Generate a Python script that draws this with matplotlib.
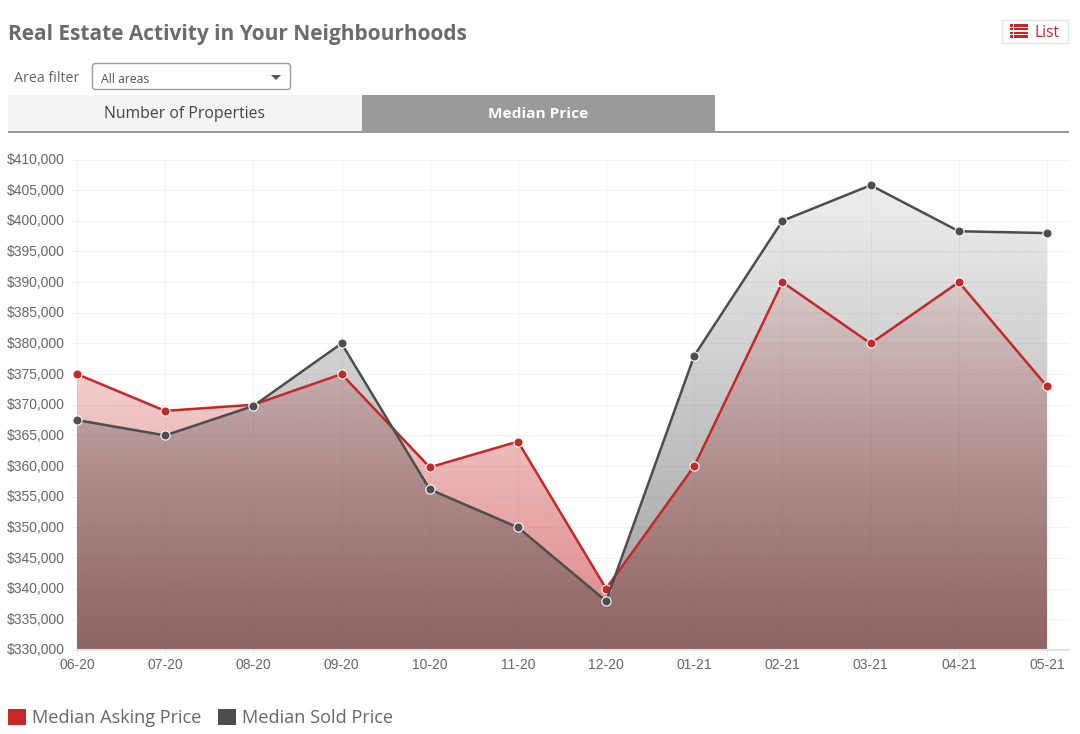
import numpy as np
import matplotlib
matplotlib.use("Agg")
import matplotlib.pyplot as plt
from matplotlib.patches import Rectangle, FancyBboxPatch, Polygon
from matplotlib.ticker import FuncFormatter
from matplotlib.transforms import ScaledTranslation

months = ["06-20", "07-20", "08-20", "09-20", "10-20", "11-20",
          "12-20", "01-21", "02-21", "03-21", "04-21", "05-21"]
asking = [375000, 369000, 370000, 375000, 359800, 364000,
          340000, 360000, 390000, 380000, 390000, 373000]
sold = [367500, 365000, 369800, 380000, 356200, 350000,
        338000, 378000, 400000, 405800, 398300, 398000]
y_ticks = list(range(330000, 410001, 5000))

RED = "#c62828"
GREY = "#4d4d4d"
W, H = 1080, 734
UI_FONT = "Open Sans"
TICK_FONT = "Liberation Sans"

fig = plt.figure(figsize=(W / 100, H / 100), dpi=100, facecolor="white")

# page furniture is drawn in pixel coordinates on a full-size overlay
ui = fig.add_axes([0, 0, 1, 1], zorder=3)
ui.set_xlim(0, W)
ui.set_ylim(H, 0)
ui.axis("off")

ui.text(8, 34.5, "Real Estate Activity in Your Neighbourhoods", family=UI_FONT,
        weight="bold", fontsize=15, color="#6b6b6b", va="center")

# list button
ui.add_patch(Rectangle((1001.5, 19.5), 66, 23, fc="white", ec="#e4e4e4", lw=1))
for yy in (24, 27.8, 31.6, 35.4):
    ui.add_patch(Rectangle((1010, yy), 3, 2.7, fc=RED, ec="none"))
    ui.add_patch(Rectangle((1014, yy), 14, 2.7, fc=RED, ec="none"))
ui.text(1034, 33, "List", family=UI_FONT, fontsize=11.2, color=RED, va="center")

# area filter
ui.text(14, 79, "Area filter", family=UI_FONT, fontsize=10.3, color="#666666", va="center")
ui.add_patch(FancyBboxPatch((92.5, 63.5), 198, 26, boxstyle="round,pad=0,rounding_size=3",
                            fc="white", ec="#999999", lw=1))
ui.text(101, 79.5, "All areas", family=UI_FONT, fontsize=8.8, color="#555555", va="center")
ui.add_patch(Polygon([(271, 75), (281, 75), (276, 80)], fc="#555555", ec="none"))

# tabs
ui.add_patch(Rectangle((8, 95), 354, 36, fc="#f4f4f4", ec="none"))
ui.add_patch(Rectangle((362, 95), 353, 36, fc="#999999", ec="none"))
ui.add_patch(Rectangle((8, 131), 1061, 2, fc="#999999", ec="none"))
ui.text(185, 114.5, "Number of Properties", family=UI_FONT, fontsize=11.35,
        color="#444444", ha="center", va="center")
ui.text(538, 114.5, "Median Price", family=UI_FONT, fontsize=11.1, weight="bold",
        color="white", ha="center", va="center")

# chart area: left 77, right 1069, top 159.5, bottom 650
ax = fig.add_axes([77 / W, 1 - 650 / H, (1069 - 77) / W, (650 - 159.5) / H], zorder=1)
x = np.arange(len(months))
x_max = (len(months) - 1) * (1069 - 77) / (1047 - 77)
ax.set_facecolor("white")
for side in ("top", "right", "left"):
    ax.spines[side].set_visible(False)
ax.spines["bottom"].set_color("#e6e6e6")
ax.spines["bottom"].set_linewidth(1.5)

ax.set_xticks(x)
ax.set_xticklabels(months)
ax.set_yticks(y_ticks)
ax.yaxis.set_major_formatter(FuncFormatter(lambda v, _: f"${v:,.0f}"))
ax.grid(True, color="#f3f3f3", lw=0.8)
ax.set_axisbelow(True)
ax.tick_params(axis="both", length=4.3, width=0.8, color="#f0f0f0", labelcolor="#666666",
               labelsize=10)
ax.tick_params(axis="x", pad=1.5)
ax.tick_params(axis="y", pad=4.3)
nudge = ScaledTranslation(0, 1.0 / 100, fig.dpi_scale_trans)
for lab in ax.get_xticklabels() + ax.get_yticklabels():
    lab.set_family(TICK_FONT)
for lab in ax.get_yticklabels():
    lab.set_transform(lab.get_transform() + nudge)


def gradient_fill(values, color, alpha_top, alpha_bottom, z):
    # vertical gradient clipped to the area under the series
    rgba = np.ones((256, 1, 4))
    rgba[:, :, :3] = matplotlib.colors.to_rgb(color)
    rgba[:, 0, 3] = np.clip(np.linspace(alpha_top, alpha_bottom, 256), 0, 1)
    im = ax.imshow(rgba, extent=(0, x_max, y_ticks[0], y_ticks[-1]),
                   origin="upper", aspect="auto", zorder=z, interpolation="bilinear")
    verts = list(zip(x, values)) + [(x[-1], y_ticks[0]), (x[0], y_ticks[0])]
    clip = Polygon(verts, transform=ax.transData, fc="none", ec="none")
    ax.add_patch(clip)
    im.set_clip_path(clip)


gradient_fill(asking, RED, -0.05, 0.58, 2)
gradient_fill(sold, GREY, 0.07, 0.55, 2.1)
ax.set_xlim(0, x_max)
ax.set_ylim(y_ticks[0], y_ticks[-1])

marker_style = dict(marker="o", ms=6.6, mec="white", mew=0.8, lw=1.8, clip_on=False)
ax.plot(x, asking, color=RED, zorder=3, label="Median Asking Price", **marker_style)
ax.plot(x, sold, color=GREY, zorder=3.1, label="Median Sold Price", **marker_style)

handles = [Rectangle((0, 0), 1, 1, fc=RED, ec="none"),
           Rectangle((0, 0), 1, 1, fc=GREY, ec="none")]
fig.legend(handles, ["Median Asking Price", "Median Sold Price"], ncol=2, frameon=False,
           loc="lower left", bbox_to_anchor=(8 / W, 1 - 727 / H),
           borderpad=0, borderaxespad=0, handlelength=1.0, handleheight=1.0,
           handletextpad=0.3, columnspacing=0.95,
           prop={"family": UI_FONT, "size": 13.05}, labelcolor="#666666")

fig.savefig("out.png", dpi=100, facecolor="white")
